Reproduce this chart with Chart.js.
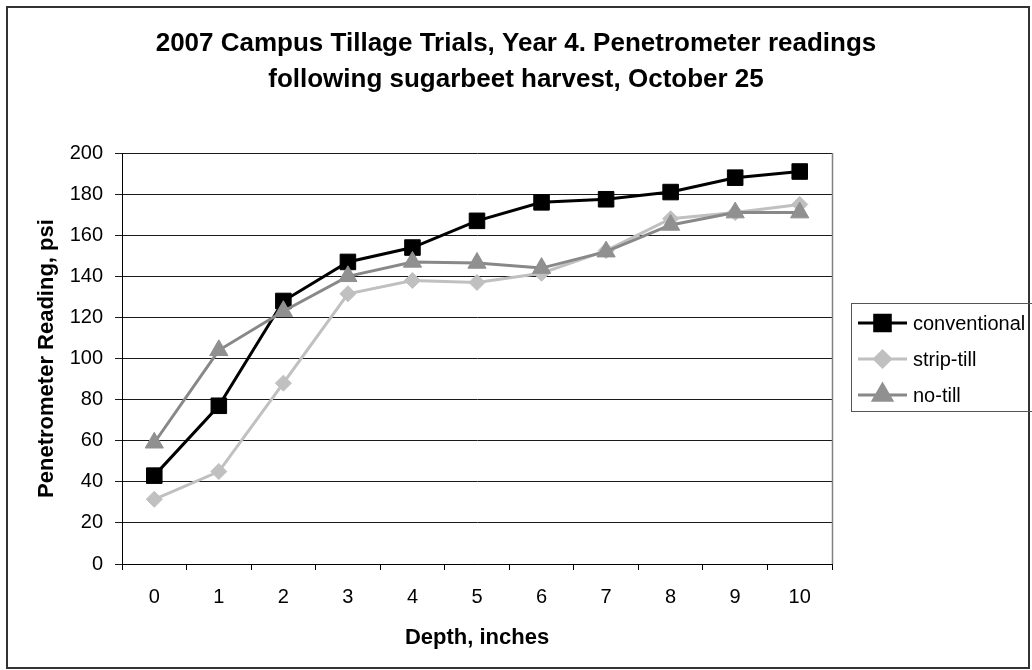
<!DOCTYPE html>
<html>
<head>
<meta charset="utf-8">
<title>Campus Tillage Trials - Penetrometer</title>
<script src="https://cdn.jsdelivr.net/npm/chart.js@4/dist/chart.umd.min.js"></script>
<style>
  html, body { margin: 0; padding: 0; background: #fff; }
  #chart { display: block; }
</style>
</head>
<body>
<canvas id="chart" width="1032" height="670"></canvas>
<script>
// ─── data ───
const depthLabels = ['0', '1', '2', '3', '4', '5', '6', '7', '8', '9', '10'];
const conventional = [43, 77, 128, 147, 154, 167, 176, 177.5, 181, 188, 191];
const stripTill    = [31.5, 45, 88, 131.5, 138, 137, 141.5, 152.5, 168, 171, 175];
const noTill       = [59, 104, 123, 140, 147, 146.5, 144, 152, 165, 171, 171];
const yTicks = { min: 0, max: 200, step: 20 };

const FONT = "'Liberation Sans', Arial, sans-serif";

// ─── white background + outer frame + plot border on the right ───
const framePlugin = {
  id: 'frame',
  beforeDraw(chart) {
    const { ctx, width, height } = chart;
    ctx.save();
    ctx.fillStyle = '#fff';
    ctx.fillRect(0, 0, width, height);
    ctx.restore();
  },
  beforeDatasetsDraw(chart) {
    const { ctx, chartArea: a } = chart;
    ctx.save();
    ctx.strokeStyle = '#808080';
    ctx.lineWidth = 1.5;
    ctx.beginPath();
    ctx.moveTo(a.right + 0.5, a.top);
    ctx.lineTo(a.right + 0.5, a.bottom);
    ctx.stroke();
    ctx.restore();
  },
  afterDraw(chart) {
    const { ctx } = chart;
    ctx.save();
    ctx.strokeStyle = '#333';
    ctx.lineWidth = 2;
    ctx.strokeRect(7, 7, 1022, 661);
    ctx.restore();
  }
};

// ─── Excel-like legend box at the right ───
const legendBoxPlugin = {
  id: 'legendBox',
  afterDraw(chart) {
    const { ctx } = chart;
    const box = { left: 851, top: 303, bottom: 411 };
    ctx.save();
    ctx.strokeStyle = '#555';
    ctx.lineWidth = 1;
    ctx.strokeRect(box.left + 0.5, box.top + 0.5, 1040 - box.left, box.bottom - box.top);

    const rowY = [323, 359, 395];
    chart.data.datasets.forEach((ds, i) => {
      const y = rowY[i];
      ctx.strokeStyle = ds.borderColor;
      ctx.lineWidth = ds.borderWidth;
      ctx.beginPath();
      ctx.moveTo(858, y);
      ctx.lineTo(907, y);
      ctx.stroke();

      ctx.fillStyle = ds.pointBackgroundColor;
      ctx.strokeStyle = ds.pointBorderColor;
      Chart.helpers.drawPoint(ctx, {
        pointStyle: ds.pointStyle,
        radius: ds.pointRadius,
        rotation: 0,
        borderWidth: 1
      }, 882.5, y);

      ctx.fillStyle = '#000';
      ctx.font = '20px ' + FONT;
      ctx.textAlign = 'left';
      ctx.textBaseline = 'middle';
      ctx.fillText(ds.label, 913, y + 1);
    });
    ctx.restore();
  }
};

const ctx = document.getElementById('chart').getContext('2d');

new Chart(ctx, {
  type: 'line',
  data: {
    labels: depthLabels,
    datasets: [
      {
        label: 'conventional',
        data: conventional,
        borderColor: '#000',
        borderWidth: 3,
        pointStyle: 'rect',
        pointRadius: 11,
        pointBackgroundColor: '#000',
        pointBorderColor: '#000',
        pointBorderWidth: 1,
        order: 2
      },
      {
        label: 'strip-till',
        data: stripTill,
        borderColor: '#c0c0c0',
        borderWidth: 3,
        pointStyle: 'rectRot',
        pointRadius: 8,
        pointBackgroundColor: '#c0c0c0',
        pointBorderColor: '#c0c0c0',
        pointBorderWidth: 1,
        order: 1
      },
      {
        label: 'no-till',
        data: noTill,
        borderColor: '#888',
        borderWidth: 3,
        pointStyle: 'triangle',
        pointRadius: 10.5,
        pointBackgroundColor: '#909090',
        pointBorderColor: '#909090',
        pointBorderWidth: 1,
        order: 0
      }
    ]
  },
  options: {
    responsive: false,
    devicePixelRatio: 1,
    animation: false,
    layout: { padding: 0 },
    scales: {
      x: {
        type: 'category',
        offset: true,
        afterFit: s => { s.height = 106; },
        grid: {
          offset: true,
          drawOnChartArea: false,
          color: '#000',
          tickLength: 6
        },
        border: { color: '#000', width: 1 },
        ticks: { color: '#000', font: { family: FONT, size: 20 }, padding: 15, maxRotation: 0 },
        title: {
          display: true,
          text: 'Depth, inches',
          color: '#000',
          font: { family: FONT, size: 22, weight: 'bold' },
          padding: { top: 0, bottom: 19 }
        }
      },
      y: {
        min: yTicks.min,
        max: yTicks.max,
        afterFit: s => { s.width = 122; },
        grid: { color: '#1a1a1a', tickLength: 7 },
        border: { color: '#000', width: 1 },
        ticks: { stepSize: yTicks.step, color: '#000', font: { family: FONT, size: 20 }, padding: 12 },
        title: {
          display: true,
          text: 'Penetrometer Reading, psi',
          color: '#000',
          font: { family: FONT, size: 22, weight: 'bold' },
          padding: { top: 34, bottom: 0 }
        }
      },
      // empty axis on the right that reserves room for the legend box
      legendSpace: {
        type: 'linear',
        position: 'right',
        afterFit: s => { s.width = 200; },
        grid: { display: false },
        border: { display: false },
        ticks: { display: false }
      }
    },
    plugins: {
      legend: { display: false },
      tooltip: { enabled: false },
      title: {
        display: true,
        text: ['2007 Campus Tillage Trials, Year 4. Penetrometer readings',
               'following sugarbeet harvest, October 25'],
        color: '#000',
        font: { family: FONT, size: 26, weight: 'bold', lineHeight: 1.385 },
        padding: { top: 26, bottom: 55 }
      }
    }
  },
  plugins: [framePlugin, legendBoxPlugin]
});
</script>
</body>
</html>
